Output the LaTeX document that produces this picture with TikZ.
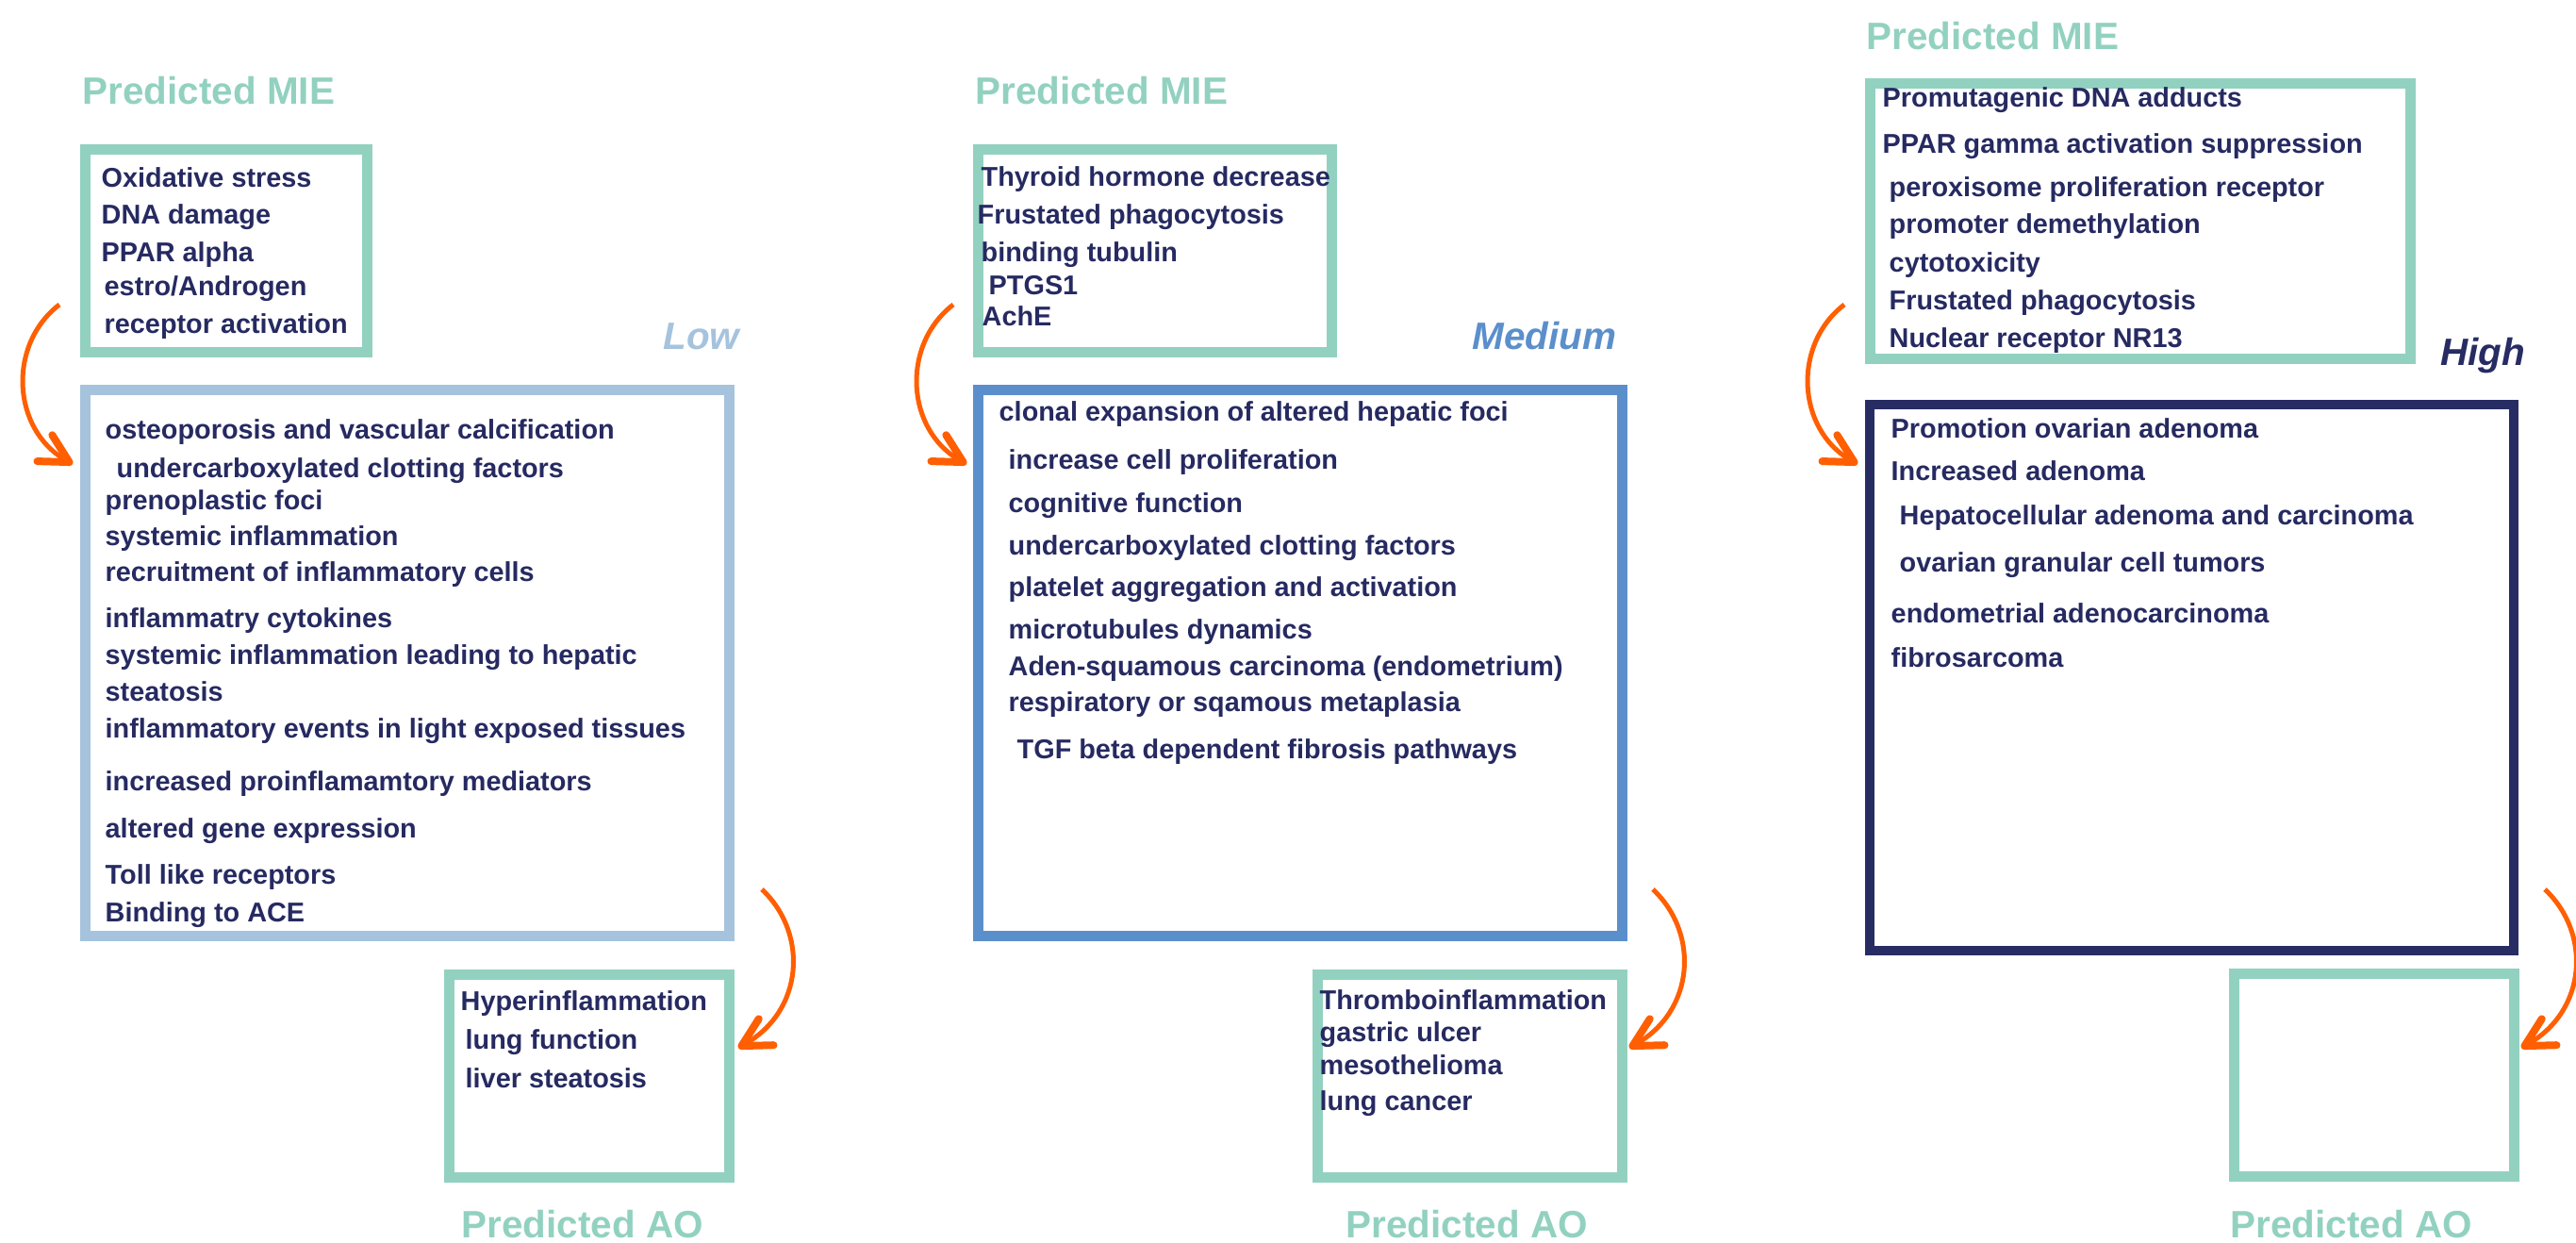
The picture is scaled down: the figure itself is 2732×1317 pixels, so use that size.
\documentclass[tikz,border=0pt]{standalone}
\usepackage{fontspec}
\setmainfont{Liberation Sans}
\usetikzlibrary{arrows.meta}
\definecolor{mieteal}{RGB}{146,209,192}
\definecolor{lowblue}{RGB}{166,195,221}
\definecolor{medblue}{RGB}{91,143,203}
\definecolor{highnavy}{RGB}{39,44,99}
\definecolor{inknavy}{RGB}{38,42,97}
\definecolor{flowred}{RGB}{255,95,0}
\tikzstyle{box}=[draw,rectangle,line width=0.11cm,inner sep=0pt,outer sep=0pt]
\tikzstyle{item}=[anchor=base west,inner sep=0pt,text=inknavy,font=\bfseries\fontsize{8.2}{10}\selectfont]
\tikzstyle{mietitle}=[anchor=base west,inner sep=0pt,text=mieteal,font=\bfseries\fontsize{11.5}{13}\selectfont]
\tikzstyle{grade}=[anchor=base east,inner sep=0pt,font=\bfseries\itshape\fontsize{11.5}{13}\selectfont]
\tikzstyle{flow}=[draw=flowred,line width=0.05cm,-{Straight Barb[length=0.3cm,width=0.32cm,line width=0.08cm,round]}]

\begin{document}
\begin{tikzpicture}[x=0.01cm,y=-0.01cm]
\useasboundingbox (0,0) rectangle (2732,1317);
% low column
\node[box,draw=mieteal,minimum width=2.99cm,minimum height=2.15cm] (mie1) at (240,266) {};
\node[box,draw=lowblue,minimum width=6.83cm,minimum height=5.79cm] (low) at (432,703) {};
\node[box,draw=mieteal,minimum width=2.97cm,minimum height=2.15cm] (ao1) at (625,1141) {};
\node[mietitle] (mie1t) at (87,110) {Predicted MIE};
\node[mietitle] (ao1t) at (489,1312) {Predicted AO};
\node[grade,text=lowblue] (lowt) at (785,370) {Low};
\foreach \x/\y/\t [count=\i] in {107/198/Oxidative stress, 107/237/DNA damage, 107/277/PPAR alpha,
  110/313/{estro/Androgen}, 110/353/receptor activation}
  \node[item] (mie1\i) at (\x,\y) {\t};
\foreach \x/\y/\t [count=\i] in {111/465/osteoporosis and vascular calcification,
  123/506/undercarboxylated clotting factors, 111/540/prenoplastic foci,
  111/578/systemic inflammation, 111/616/recruitment of inflammatory cells,
  111/665/inflammatry cytokines, 111/704/systemic inflammation leading to hepatic,
  111/743/steatosis, 111/782/inflammatory events in light exposed tissues,
  111/838/increased proinflamamtory mediators, 111/888/altered gene expression,
  111/937/Toll like receptors, 111/977/Binding to ACE}
  \node[item] (low\i) at (\x,\y) {\t};
\foreach \x/\y/\t [count=\i] in {488/1071/Hyperinflammation, 493/1112/lung function, 493/1153/liver steatosis}
  \node[item] (ao1\i) at (\x,\y) {\t};
% medium column
\node[box,draw=mieteal,minimum width=3.75cm,minimum height=2.15cm] (mie2) at (1225,266) {};
\node[box,draw=medblue,minimum width=6.83cm,minimum height=5.79cm] (med) at (1379,703) {};
\node[box,draw=mieteal,minimum width=3.23cm,minimum height=2.15cm] (ao2) at (1559,1141) {};
\node[mietitle] (mie2t) at (1034,110) {Predicted MIE};
\node[mietitle] (ao2t) at (1427,1312) {Predicted AO};
\node[grade,text=medblue] (medt) at (1715,370) {Medium};
\foreach \x/\y/\t [count=\i] in {1040/197/Thyroid hormone decrease, 1036/237/Frustated phagocytosis,
  1040/277/binding tubulin, 1048/312/PTGS1, 1041/345/AchE}
  \node[item] (mie2\i) at (\x,\y) {\t};
\foreach \x/\y/\t [count=\i] in {1059/446/clonal expansion of altered hepatic foci,
  1069/497/increase cell proliferation, 1069/543/cognitive function,
  1069/588/undercarboxylated clotting factors, 1069/632/platelet aggregation and activation,
  1069/677/microtubules dynamics, 1069/716/Aden-squamous carcinoma (endometrium),
  1069/754/respiratory or sqamous metaplasia, 1078/804/TGF beta dependent fibrosis pathways}
  \node[item] (med\i) at (\x,\y) {\t};
\foreach \x/\y/\t [count=\i] in {1399/1070/Thromboinflammation, 1399/1104/gastric ulcer,
  1399/1139/mesothelioma, 1399/1177/lung cancer}
  \node[item] (ao2\i) at (\x,\y) {\t};
% high column
\node[box,draw=mieteal,minimum width=5.73cm,minimum height=2.92cm] (mie3) at (2270,234.5) {};
\node[box,draw=highnavy,line width=0.1cm,minimum width=6.82cm,minimum height=5.78cm] (high) at (2324.5,718.5) {};
\node[box,draw=mieteal,minimum width=2.97cm,minimum height=2.15cm] (ao3) at (2518,1140) {};
\node[mietitle] (mie3t) at (1979,52) {Predicted MIE};
\node[mietitle] (ao3t) at (2365,1312) {Predicted AO};
\node[grade,text=highnavy] (hight) at (2679,387) {High};
\foreach \x/\y/\t [count=\i] in {1996/113/Promutagenic DNA adducts, 1996/162/PPAR gamma activation suppression,
  2003/208/peroxisome proliferation receptor, 2003/247/promoter demethylation,
  2003/288/cytotoxicity, 2003/328/Frustated phagocytosis, 2003/368/Nuclear receptor NR13}
  \node[item] (mie3\i) at (\x,\y) {\t};
\foreach \x/\y/\t [count=\i] in {2005/464/Promotion ovarian adenoma, 2005/509/Increased adenoma,
  2014/556/Hepatocellular adenoma and carcinoma, 2014/606/ovarian granular cell tumors,
  2005/660/endometrial adenocarcinoma, 2005/707/fibrosarcoma}
  \node[item] (high\i) at (\x,\y) {\t};
% arrows
\coordinate (mie1out) at (63,323);   \coordinate (lowin) at (77,492);
\coordinate (lowout) at (808,943);   \coordinate (ao1in) at (783,1111);
\coordinate (mie2out) at (1011,323); \coordinate (medin) at (1025,492);
\coordinate (medout) at (1753,943);  \coordinate (ao2in) at (1728,1111);
\coordinate (mie3out) at (1956,323); \coordinate (highin) at (1970,492);
\coordinate (highout) at (2699,943); \coordinate (ao3in) at (2674,1111);
\draw[flow] (mie1out) .. controls (8,365) and (12,455) .. (lowin);
\draw[flow] (lowout) .. controls (858,990) and (852,1072) .. (ao1in);
\draw[flow] (mie2out) .. controls (956,365) and (960,455) .. (medin);
\draw[flow] (medout) .. controls (1803,990) and (1797,1072) .. (ao2in);
\draw[flow] (mie3out) .. controls (1901,365) and (1905,455) .. (highin);
\draw[flow] (highout) .. controls (2749,990) and (2743,1072) .. (ao3in);
\end{tikzpicture}
\end{document}
